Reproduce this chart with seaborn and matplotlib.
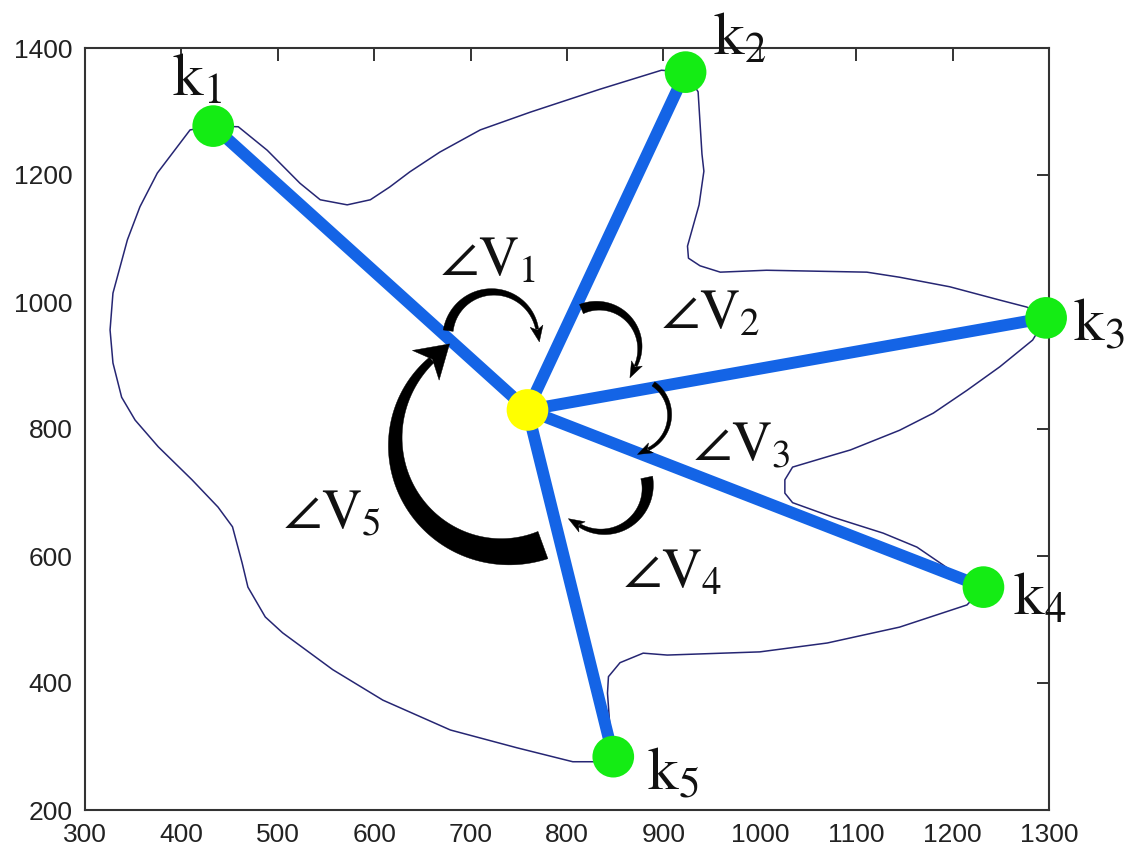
import numpy as np
import matplotlib
matplotlib.use("Agg")
import matplotlib.pyplot as plt
from matplotlib.patches import Polygon
import seaborn as sns

# ---- data ----
center_x = [759]
center_y = [830]

key_names = ["k_1", "k_2", "k_3", "k_4", "k_5"]
key_x = [433, 923, 1297, 1232, 848]
key_y = [1277, 1362, 975, 551, 284]

contour_x = [433, 459, 489, 523, 544, 572, 596, 616, 637, 668, 710, 762, 834, 898,
             923, 936, 940, 942, 937, 925, 926, 938, 959, 1007, 1111, 1145, 1197,
             1249, 1277, 1297, 1283, 1249, 1215, 1180, 1145, 1094, 1076, 1034, 1026,
             1026, 1034, 1076, 1128, 1163, 1190, 1208, 1232, 1215, 1145, 1070, 1000,
             904, 879, 855, 843, 842, 844, 848, 827, 806, 748, 679, 609, 557, 505,
             487, 469, 463, 453, 438, 411, 376, 352, 338, 329, 326, 329, 344, 357,
             375, 409, 433]
contour_y = [1277, 1276, 1239, 1187, 1161, 1153, 1161, 1181, 1205, 1236, 1271, 1299,
             1335, 1365, 1362, 1331, 1233, 1206, 1153, 1088, 1069, 1057, 1047, 1050,
             1047, 1039, 1024, 1003, 992, 975, 940, 898, 861, 825, 798, 767, 759, 740,
             720, 699, 684, 661, 636, 614, 586, 567, 551, 523, 488, 463, 449, 444, 447,
             432, 410, 384, 342, 284, 276, 276, 298, 326, 373, 421, 479, 504, 551, 589,
             646, 677, 720, 772, 814, 850, 904, 956, 1014, 1098, 1150, 1203, 1271, 1277]

key_label_x = [390, 951, 1325, 1263, 883]
key_label_y = [1324, 1389, 940, 507, 232]

angle_names = ["V_1", "V_2", "V_3", "V_4", "V_5"]
angle_label_x = [668, 898, 931, 858, 505]
angle_label_y = [1042, 959, 751, 550, 644]

# angle arrows: anchor (data), radius px, start/end angle deg, widths px, head
arc_cx = [723, 832, 867, 837, 736]
arc_cy = [945, 928, 822, 709, 780]
arc_r = [45, 42, 38, 45, 110]
arc_a0 = [172, 113, 55, 12, -70]
arc_a1 = [10, -26, -64, -121, -228]
arc_w0 = [10, 10, 5, 12, 29]
arc_w1 = [3, 3, 3, 3.5, 7]
arc_hl = [13, 13, 12, 13, 24]
arc_hw = [13, 12, 11, 12, 40]
arc_notch = [3, 3, 3, 3, 8]

x_ticks = list(range(300, 1301, 100))
y_ticks = list(range(200, 1401, 200))

BLUE = "#1464e6"
GREEN = "#14ec14"
YELLOW = "#ffff00"
NAVY = "#262673"

sns.set_theme(style="white")
plt.rcParams["font.family"] = ["Liberation Sans", "DejaVu Sans"]
plt.rcParams["mathtext.fontset"] = "stix"

fig = plt.figure(figsize=(11.34, 8.51), dpi=100)
fig.patch.set_facecolor("white")
ax = fig.add_axes([85 / 1134, 1 - 810 / 851, (1049 - 85) / 1134, (810 - 48) / 851])
ax.set_facecolor("white")
ax.set_xlim(300, 1300)
ax.set_ylim(200, 1400)
ax.set_xticks(x_ticks)
ax.set_yticks(y_ticks)
ax.set_xticklabels([str(v) for v in x_ticks])
ax.set_yticklabels([str(v) for v in y_ticks])
ax.tick_params(direction="in", length=9, width=1.4, top=True, right=True,
               labelsize=19, pad=9, colors="#333333", labelcolor="#222222")
for sp in ax.spines.values():
    sp.set_linewidth(1.5)
    sp.set_color("#333333")
    sp.set_visible(True)

# contour
sns.lineplot(x=contour_x, y=contour_y, sort=False, estimator=None, color=NAVY,
             lw=1.1, ax=ax, zorder=2)
for ln in ax.lines:
    ln.set_clip_on(False)
    ln.set_solid_joinstyle("round")

# spokes
for kx, ky in zip(key_x, key_y):
    ax.plot([center_x[0], kx], [center_y[0], ky], color=BLUE, lw=8.6,
            solid_capstyle="butt", zorder=3, clip_on=False)


def tapered_arc(cx, cy, r, a0, a1, w0, w1, hl, hw, notch):
    ox, oy = ax.transData.transform((cx, cy))
    n = 120
    th = np.radians(np.linspace(a0, a1, n))
    w = np.linspace(w0, w1, n)
    px = ox + r * np.cos(th)
    py = oy + r * np.sin(th)
    nx, ny = np.cos(th), np.sin(th)
    outer = np.c_[px + nx * w / 2, py + ny * w / 2]
    inner = np.c_[px - nx * w / 2, py - ny * w / 2]
    body = np.vstack([outer, inner[::-1]])
    sgn = np.sign(a1 - a0)
    te = th[-1]
    tx, ty = -np.sin(te) * sgn, np.cos(te) * sgn
    ex, ey = px[-1], py[-1]
    nxe, nye = np.cos(te), np.sin(te)
    tip = (ex + tx * hl, ey + ty * hl)
    b1 = (ex - tx * notch + nxe * hw / 2, ey - ty * notch + nye * hw / 2)
    b2 = (ex - tx * notch - nxe * hw / 2, ey - ty * notch - nye * hw / 2)
    back = (ex + tx * 1.0, ey + ty * 1.0)
    head = np.array([b1, tip, b2, back])
    inv = ax.transData.inverted()
    for poly in (body, head):
        ax.add_patch(Polygon(inv.transform(poly), closed=True, facecolor="black",
                             edgecolor="black", lw=0.3, zorder=4,
                             transform=ax.transData, clip_on=False))


for i in range(5):
    tapered_arc(arc_cx[i], arc_cy[i], arc_r[i], arc_a0[i], arc_a1[i],
                arc_w0[i], arc_w1[i], arc_hl[i], arc_hw[i], arc_notch[i])

# points
sns.scatterplot(x=key_x, y=key_y, s=900, color=GREEN, edgecolor="none",
                ax=ax, zorder=5, legend=False)
sns.scatterplot(x=center_x, y=center_y, s=900, color=YELLOW, edgecolor="none",
                ax=ax, zorder=5, legend=False)
for coll in ax.collections:
    coll.set_clip_on(False)

# labels
for name, lx, ly in zip(key_names, key_label_x, key_label_y):
    ax.text(lx, ly, r"$\mathrm{%s}$" % name, fontsize=44, ha="left",
            va="baseline", color="#111111", zorder=6, clip_on=False)
for name, lx, ly in zip(angle_names, angle_label_x, angle_label_y):
    ax.text(lx, ly, r"$\angle\mathrm{%s}$" % name, fontsize=40, ha="left",
            va="baseline", color="#111111", zorder=6, clip_on=False)

ax.set_xlabel("")
ax.set_ylabel("")
fig.savefig("out.png", dpi=100, facecolor="white")
